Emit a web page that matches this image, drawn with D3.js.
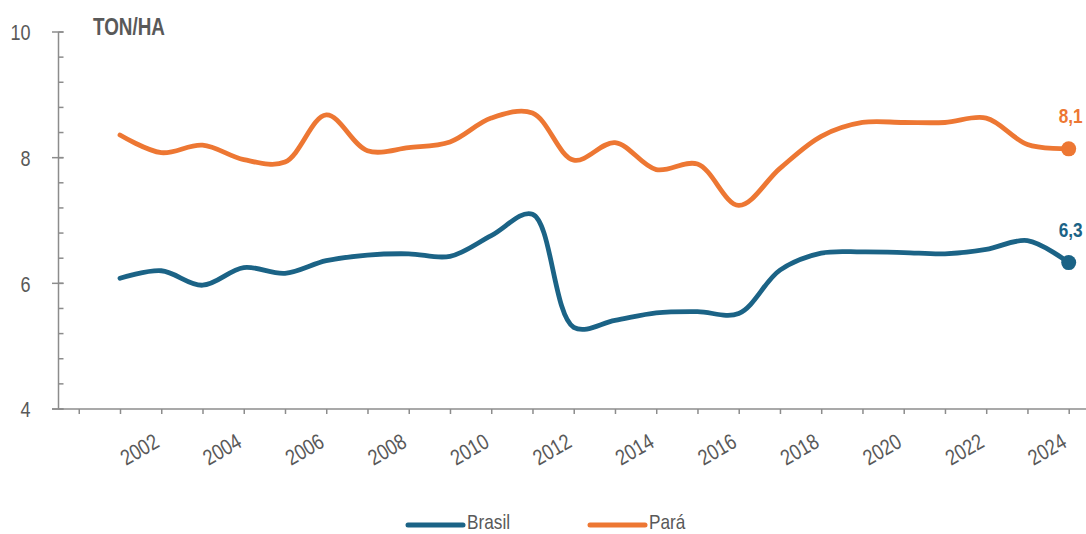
<!DOCTYPE html>
<html>
<head>
<meta charset="utf-8">
<script src="https://cdn.jsdelivr.net/npm/d3@7"></script>
<style>
  body { margin: 0; background: #fff; }
  svg { display: block; }
  text { font-family: "Liberation Sans", Arial, sans-serif; fill: #595959; }
</style>
</head>
<body>
<svg id="chart" width="1086" height="534"></svg>
<script>
// values
var years = d3.range(2001, 2025);
var brasil = [6.08, 6.20, 5.97, 6.25, 6.16, 6.36, 6.45, 6.47, 6.43, 6.76, 7.10, 5.30,
              5.41, 5.53, 5.55, 5.52, 6.21, 6.48, 6.50, 6.49, 6.47, 6.54, 6.68, 6.33];
var para   = [8.36, 8.08, 8.20, 7.97, 7.93, 8.68, 8.11, 8.16, 8.25, 8.63, 8.71, 7.96,
              8.24, 7.81, 7.90, 7.24, 7.83, 8.34, 8.56, 8.56, 8.56, 8.63, 8.21, 8.14];
var seriesNames = ["Brasil", "Pará"];
var endLabels = ["6,3", "8,1"];
var yTicks = [4, 6, 8, 10];

var BLUE = "#1b6386",
    ORANGE = "#ed7733",
    AXIS = "#8c8c8c",
    NARROW = 0.82; // no Arial Narrow here, squeeze Liberation Sans instead

var vis = d3.select("#chart");

var xScale = d3.scaleLinear()
    .domain([2001, 2024])
    .range([120, 1068.7]);
var yScale = d3.scaleLinear()
    .domain([4, 10])
    .range([409, 32]);

var lineGen = d3.line()
  .x(function(d, i) { return xScale(years[i]); })
  .y(function(d) { return yScale(d); })
  .curve(d3.curveCatmullRom.alpha(0.5));

// y axis: major ticks cross the line, minor ticks inside
var yAxis = d3.axisLeft(yScale)
    .tickValues(yTicks)
    .tickSize(0)
    .tickFormat(d3.format("d"));

var yG = vis.append("g")
    .attr("transform", "translate(58.5,0)")
    .call(yAxis);
yG.select(".domain").remove();
yG.selectAll("text")
    .style("font-size", "22px")
    .attr("fill", "#595959")
    .attr("x", 0)
    .attr("dy", "0.36em")
    .attr("transform", "translate(-28,0) scale(" + NARROW + ",1)");

vis.append("line")
    .attr("x1", 58.5).attr("x2", 58.5)
    .attr("y1", yScale(10)).attr("y2", yScale(4))
    .attr("stroke", AXIS).attr("stroke-width", 1.5);

var minor = d3.range(4, 10.001, 0.4);
vis.selectAll(".minor")
  .data(minor)
  .enter().append("line")
    .attr("class", "minor")
    .attr("x1", 58.5).attr("x2", 63.5)
    .attr("y1", function(d) { return yScale(d); })
    .attr("y2", function(d) { return yScale(d); })
    .attr("stroke", AXIS).attr("stroke-width", 1.5);

vis.selectAll(".major")
  .data(yTicks)
  .enter().append("line")
    .attr("class", "major")
    .attr("x1", 52).attr("x2", 63.5)
    .attr("y1", function(d) { return yScale(d); })
    .attr("y2", function(d) { return yScale(d); })
    .attr("stroke", AXIS).attr("stroke-width", 1.5);

// x axis
var xAxis = d3.axisBottom(xScale)
    .tickValues(d3.range(2000, 2025))
    .tickSize(5)
    .tickFormat(function(d) { return d % 2 === 0 && d > 2000 ? d : ""; });

var xG = vis.append("g")
    .attr("transform", "translate(0," + yScale(4) + ")")
    .call(xAxis);
xG.select(".domain")
    .attr("d", "M52,0H1086")
    .attr("stroke", AXIS).attr("stroke-width", 1.5);
xG.selectAll(".tick line")
    .attr("stroke", AXIS).attr("stroke-width", 1.5);
xG.selectAll(".tick text")
    .style("font-size", "22px")
    .attr("fill", "#595959")
    .attr("text-anchor", "end")
    .attr("y", 0).attr("dy", 0)
    .attr("transform", "translate(-1,37) rotate(-30) scale(" + NARROW + ",1)");

// unit label
vis.append("text")
    .attr("transform", "translate(93,35) scale(" + NARROW + ",1)")
    .style("font-size", "23px")
    .style("font-weight", "bold")
    .text("TON/HA");

// lines
var data = [brasil, para];
var colors = [BLUE, ORANGE];

vis.selectAll(".path")
  .data(data)
  .enter().append("path")
    .attr("class", "path")
    .attr("d", function(d) { return lineGen(d); })
    .attr("fill", "none")
    .attr("stroke", function(d, i) { return colors[i]; })
    .attr("stroke-width", 4.8)
    .attr("stroke-linecap", "round");

// end points and labels
data.forEach(function(d, i) {
  var last = d.length - 1;
  var cx = xScale(years[last]), cy = yScale(d[last]);
  vis.append("circle")
    .attr("cx", cx)
    .attr("cy", cy)
    .attr("r", 7.5)
    .attr("fill", colors[i]);
  vis.append("text")
    .attr("transform", "translate(" + (cx + 2) + "," + (cy - 26) + ") scale(" + NARROW + ",1)")
    .attr("text-anchor", "middle")
    .style("font-size", "21px")
    .style("font-weight", "bold")
    .style("fill", colors[i])
    .text(endLabels[i]);
});

// legend
var legendX = [408, 590];
seriesNames.forEach(function(name, i) {
  vis.append("line")
    .attr("x1", legendX[i]).attr("x2", legendX[i] + 55)
    .attr("y1", 525).attr("y2", 525)
    .attr("stroke", colors[i])
    .attr("stroke-width", 5)
    .attr("stroke-linecap", "round");
  vis.append("text")
    .attr("transform", "translate(" + (legendX[i] + 59) + ",529) scale(" + NARROW + ",1)")
    .style("font-size", "21px")
    .text(name);
});
</script>
</body>
</html>
